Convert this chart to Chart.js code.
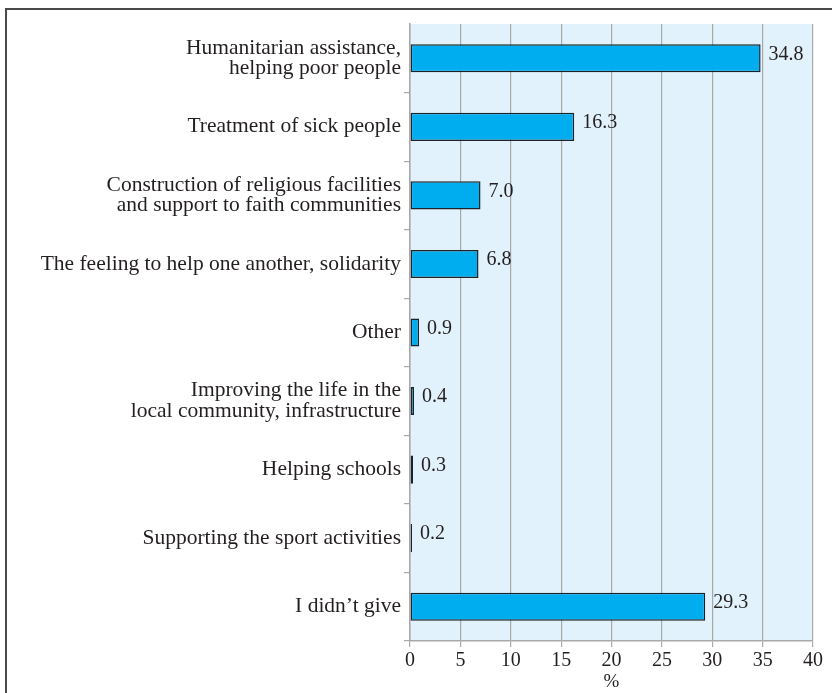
<!DOCTYPE html>
<html>
<head>
<meta charset="utf-8">
<script src="https://cdn.jsdelivr.net/npm/chart.js@4/dist/chart.umd.min.js"></script>
<style>
  html, body { margin: 0; padding: 0; background: #ffffff; }
  #wrap { position: relative; width: 832px; height: 693px; }
  #frame {
    position: absolute; left: 5px; top: 8px; right: 0; bottom: 0;
    border-top: 2px solid #4a4a4a; border-left: 2px solid #4a4a4a;
    pointer-events: none;
  }
  canvas { position: absolute; left: 0; top: 0; }
</style>
</head>
<body>
<div id="wrap">
  <canvas id="chart" width="832" height="693"></canvas>
  <div id="frame"></div>
</div>
<script>
// Razlozi davanja - horizontalni stubici, u procentima
const categories = [
  ['Humanitarian assistance,', 'helping poor people'],
  'Treatment of sick people',
  ['Construction of religious facilities', 'and support to faith communities'],
  'The feeling to help one another, solidarity',
  'Other',
  ['Improving the life in the', 'local community, infrastructure'],
  'Helping schools',
  'Supporting the sport activities',
  'I didn\u2019t give'
];
const percentages = [34.8, 16.3, 7.0, 6.8, 0.9, 0.4, 0.3, 0.2, 29.3];
const axisMin = 0;
const axisMax = 40;
const axisStep = 5;

const FONT = '"Liberation Serif", "Times New Roman", serif';
const TEXT = '#231f20';
const GRID = '#a8a8a8';

// pozadina plot area
const plotBackground = {
  id: 'plotBackground',
  beforeDraw(chart) {
    const { ctx, chartArea: a } = chart;
    ctx.save();
    ctx.fillStyle = '#e1f2fc';
    ctx.fillRect(a.left, a.top, a.right - a.left, a.bottom - a.top);
    ctx.restore();
  }
};

// vrijednosti desno od stubica
const valueLabels = {
  id: 'valueLabels',
  afterDatasetsDraw(chart) {
    const { ctx } = chart;
    const meta = chart.getDatasetMeta(0);
    ctx.save();
    ctx.font = '20px ' + FONT;
    ctx.fillStyle = TEXT;
    ctx.textAlign = 'left';
    ctx.textBaseline = 'middle';
    meta.data.forEach((bar, i) => {
      ctx.fillText(percentages[i].toFixed(1), bar.x + 8, bar.y - 4);
    });
    ctx.restore();
  }
};

new Chart(document.getElementById('chart'), {
  type: 'bar',
  data: {
    labels: categories,
    datasets: [{
      data: percentages,
      backgroundColor: '#00aeef',
      borderColor: '#1b2328',
      borderWidth: 1.5,
      borderSkipped: false,
      categoryPercentage: 1,
      barPercentage: 0.41
    }]
  },
  options: {
    indexAxis: 'y',
    responsive: false,
    animation: false,
    layout: { padding: { top: 24, right: 19, left: 0, bottom: 0 } },
    plugins: {
      legend: { display: false },
      tooltip: { enabled: false }
    },
    scales: {
      x: {
        min: axisMin,
        max: axisMax,
        afterFit(scale) { scale.height = 52; },
        ticks: {
          stepSize: axisStep,
          color: TEXT,
          padding: 2,
          font: { family: FONT, size: 20 }
        },
        grid: {
          color: GRID,
          lineWidth: 1.2,
          tickLength: 6,
          tickColor: GRID
        },
        border: { color: GRID, width: 1.5 },
        title: {
          display: true,
          text: '%',
          color: TEXT,
          padding: { top: 0, bottom: 0 },
          font: { family: FONT, size: 19 }
        }
      },
      y: {
        afterFit(scale) { scale.width = 410; },
        ticks: {
          color: TEXT,
          padding: 3,
          font: { family: FONT, size: 21.5, lineHeight: 0.96 }
        },
        grid: {
          drawOnChartArea: false,
          tickLength: 6,
          // bez crtice na samom vrhu ose
          tickColor: (c) => (c.index === 0 ? 'rgba(0,0,0,0)' : GRID),
          lineWidth: 1.2
        },
        border: { color: GRID, width: 1.5 }
      }
    }
  },
  plugins: [plotBackground, valueLabels]
});
</script>
</body>
</html>
